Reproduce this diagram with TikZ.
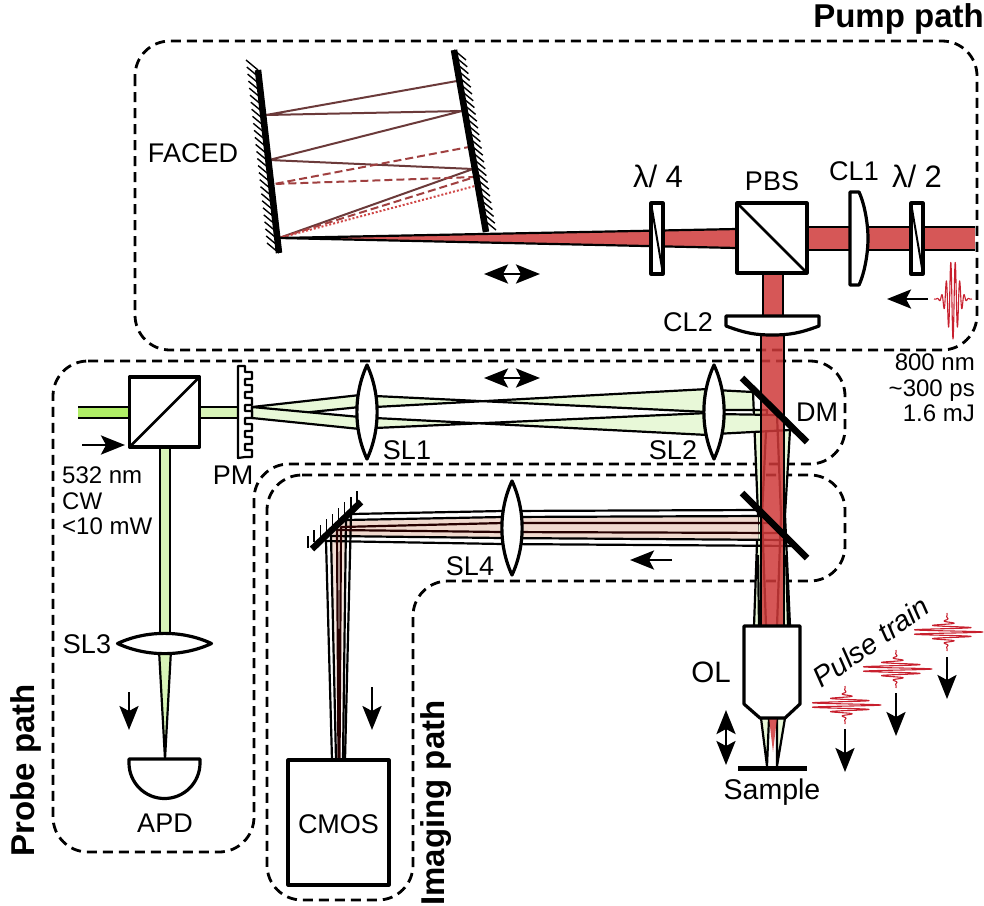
\documentclass[tikz,border=0pt]{standalone}
\usepackage{fontspec}
\setmainfont{Liberation Sans}
\usetikzlibrary{arrows.meta,calc,positioning}
\definecolor{pumpred}{HTML}{CF3A3A}
\definecolor{pulsered}{HTML}{C8202E}
\definecolor{raybrown}{HTML}{6B3A3A}
\definecolor{raydash}{HTML}{A04040}
\definecolor{raydot}{HTML}{D04848}
\definecolor{srcgreen}{HTML}{B0EE66}
\definecolor{midgreen}{HTML}{D8F4B8}
\definecolor{palegreen}{HTML}{E8F8D8}
\definecolor{imgpink}{HTML}{F0D9CE}
\tikzset{
    pathbox/.style={
      draw=black, line width=2.8pt,
           dash pattern=on 10pt off 6pt,
           rounded corners=35pt,
           },
    optic/.style={
      draw=black, fill=white, line width=3.2pt,
           line join=round,
           },
    cube/.style={
      optic,
           rectangle,
           inner sep=0pt, outer sep=0pt,
           minimum size=70pt,
           },
    plate/.style={
      optic,
           rectangle,
           inner sep=0pt, outer sep=0pt,
           minimum width=12pt, minimum height=71pt,
           },
    mirror/.style={draw=black, line width=6.5pt},
    hatchline/.style={draw=black, line width=1.4pt},
    edge/.style={draw=black, line width=2.2pt, line join=round},
    redbeam/.style={edge, fill=pumpred, fill opacity=0.85},
    arrowline/.style={line width=2.8pt, -{Stealth[length=24pt,width=19pt,inset=5pt]}},
    biarrow/.style={line width=2.8pt, {Stealth[length=24pt,width=19pt,inset=5pt]}-{Stealth[length=24pt,width=19pt,inset=5pt]}},
    lab/.style={anchor=base, inner sep=0pt, font=\fontsize{27}{30}\selectfont},
    labsmall/.style={inner sep=0pt, font=\fontsize{24}{25.5}\selectfont},
    pathlabel/.style={inner sep=0pt, font=\bfseries\fontsize{33}{36}\selectfont},
    pulseline/.style={draw=pulsered, line width=1.1pt, line join=round},
    lens/.pic={
      \draw[optic] (0,-47) .. controls (13.5,-18) and (13.5,18) .. (0,47)
                   .. controls (-13.5,18) and (-13.5,-18) .. cycle;
    },
    pumppulse/.pic={
      \draw[pulseline] plot[domain=-19:19,samples=400] ({\x},{40*exp(-((\x/7.5)*(\x/7.5)))*cos(80*\x)});
    },
    trainpulse/.pic={
      \draw[pulseline] plot[domain=-19:19,samples=400] ({36*exp(-((\x/7)*(\x/7)))*cos(80*\x)},{\x});
    },
}
\newcommand{\hatchmirror}[5]{
  \foreach \t in {0,...,#3}{
    \draw[hatchline] ($(#1)!\t/#3!(#2)$) -- ++(#4,#5);
  }
}

\begin{document}
\begin{tikzpicture}[x=1pt,y=-1pt]
\useasboundingbox (0,0) rectangle (984,905);

% dashed outlines
\draw[pathbox] (135,41) rectangle (977,350);
\draw[pathbox] (53,361) -- (845,361) -- (845,464) -- (254,464) -- (254,852) -- (53,852) -- cycle;
\draw[pathbox] (267,475) -- (845,475) -- (845,581) -- (413,581) -- (413,900) -- (267,900) -- cycle;

% FACED rays
\draw[raybrown,line width=2pt,line join=round] (279,238) -- (473,169) -- (269,160) -- (462,111) -- (266,115) -- (457,81);
\draw[raydash,line width=2pt,dash pattern=on 8pt off 4pt] (279,238) -- (475,177) -- (274,184) -- (469,147);
\draw[raydot,line width=2pt,dash pattern=on 2pt off 2pt] (279,238) -- (475,186);

% probe beams
\fill[srcgreen] (78,407) rectangle (131,418);
\draw[edge] (78,407) -- (131,407) (78,418) -- (131,418);
\draw[edge,fill=midgreen] (199,407) rectangle (240,418);
\draw[edge,fill=midgreen] (160,447) rectangle (170,640);
\draw[edge,fill=midgreen,line join=miter] (159,650) -- (171,650) -- (165,759) -- cycle;
\draw[edge,fill=palegreen] (252,407) -- (360,395) -- (360,407) -- (252,418) -- cycle;
\draw[edge,fill=palegreen] (252,407) -- (360,417) -- (360,429) -- (252,418) -- cycle;
\draw[edge,fill=palegreen] (375,396) -- (708,412) -- (708,389) -- (375,407) -- cycle;
\draw[edge,fill=palegreen] (375,418) -- (708,435) -- (708,413) -- (375,428) -- cycle;
\draw[edge,fill=palegreen] (715,390) -- (753,392) -- (758,515) -- (754,626) -- (766,626) -- (762,515) -- (767,410) -- (715,410) -- cycle;
\draw[edge,fill=palegreen] (715,414) -- (777,415) -- (781,515) -- (777,626) -- (790,626) -- (785,515) -- (790,430) -- (715,434) -- cycle;
\draw[edge] (758,555) -- (759,626) (786,555) -- (788,626);

% imaging beam
\fill[imgpink] (758,516) -- (503,517) -- (346,520) -- (331,536) -- (503,538) -- (758,540) -- cycle;
\shade[top color=imgpink,bottom color=white] (346,520) -- (331,536) -- (336,760) -- (343,760) -- cycle;
\foreach \xa/\ya/\yb/\xb/\yc/\xc in {759/510/511/351/514/345,765/516/517/346/520/343,789/540/538/331/536/336,795/546/544/326/541/332}{
  \draw[edge] (\xa,\ya) -- (503,\yb) -- (\xb,\yc) -- (\xc,760);
}
\foreach \xa/\ya/\yb/\xb/\yc/\xc in {772/523/523/341/527/339.5,782/533/532/337/530/338.5}{
  \draw[edge,draw=black!85!red] (\xa,\ya) -- (503,\yb) -- (\xb,\yc) -- (\xc,760);
}

% FACED mirrors
\coordinate (mla) at (258,70);
\coordinate (mlb) at (279,253);
\coordinate (mra) at (454,50);
\coordinate (mrb) at (484,220);
\hatchmirror{mla}{mlb}{26}{-12}{-10}
\hatchmirror{mra}{mrb}{25}{12}{10}

% pump beam
\path[redbeam] (279,238) -- (737,229) -- (737,248) -- cycle;
\fill[pumpred,fill opacity=0.85] (807,227) rectangle (975,250);
\draw[edge] (807,227) -- (975,227) (807,250) -- (975,250);
\path[redbeam] (763,273) rectangle (783,318);
\path[redbeam] (761,330) rectangle (784,626);

% objective cone
\draw[edge,fill=palegreen,line join=miter] (761,718) -- (769,718) -- (767,766) -- cycle;
\draw[edge,fill=palegreen,line join=miter] (777,718) -- (785,718) -- (777,766) -- cycle;
\fill[pumpred,fill opacity=0.85] (769,718) -- (777,718) -- (773,752) -- cycle;

\draw[mirror] (mla) -- (mlb);
\draw[mirror] (mra) -- (486,232);

% folding mirrors
\coordinate (mia) at (308,548);
\coordinate (mib) at (357,503);
\hatchmirror{mia}{mib}{8}{0}{-12}
\draw[mirror] (312,549) -- (361,502);
\draw[mirror] (742,378) -- (807,442);
\draw[mirror] (742,493) -- (807,558);

% optics
\node[plate] (qwp) at (657,238.5) {};
\draw[line width=2pt] (qwp.north west) -- (qwp.south east);
\node[plate] (hwp) at (917,238.5) {};
\draw[line width=2pt] (hwp.north west) -- (hwp.south east);
\node[cube] (pbs) at (772,238) {};
\draw[line width=2.8pt] (pbs.north west) -- (pbs.south east);
\node[cube] (bsp) at (164.5,412) {};
\draw[line width=2.8pt] (bsp.south west) -- (bsp.north east);

\draw[optic] (850,192) -- (859,192) .. controls (865,205) and (868,225) .. (868,238.5) .. controls (868,252) and (865,272) .. (859,285) -- (850,285) -- cycle;
\draw[optic] (726,316) -- (819,316) -- (819,326) .. controls (800,333) and (790,335) .. (772,335) .. controls (755,335) and (745,333) .. (726,326) -- cycle;

\draw[optic,line width=2.2pt] (238,366) -- (245,366) \foreach \k in {0,...,6} { -- ++(0,6) -- ++(7,0) -- ++(0,7) -- ++(-7,0) } -- (238,458) -- cycle;

\pic at (367,412) {lens};
\pic at (714,412) {lens};
\pic at (512,528) {lens};
\pic[rotate=90] at (164.5,643.5) {lens};

\draw[optic] (129,759) -- (200,759) -- (200,763) arc[start angle=0,end angle=180,radius=35.5] -- cycle;
\node[optic,rectangle,inner sep=0pt,outer sep=0pt,minimum width=101pt,minimum height=125pt] (cmos) at (338.5,822.5) {};
\draw[optic] (744,626) -- (800,626) -- (800,704) -- (785,718) -- (760,718) -- (744,704) -- cycle;
\fill[black] (738,766) rectangle (807,771);

% pulses
\pic at (953,299) {pumppulse};
\pic at (845,705) {trainpulse};
\pic at (896,669) {trainpulse};
\pic at (947,632) {trainpulse};

% arrows
\draw[biarrow] (484,274) -- (540,274);
\draw[biarrow] (484,378) -- (540,378);
\draw[biarrow] (726,710) -- (726,765);
\draw[arrowline] (928,299) -- (887,299);
\draw[arrowline] (82,445) -- (125,445);
\draw[arrowline] (672,560) -- (630,560);
\draw[arrowline] (129,692) -- (129,730);
\draw[arrowline] (372,687) -- (372,730);
\draw[arrowline] (845,729) -- (845,772);
\draw[arrowline] (896,693) -- (896,736);
\draw[arrowline] (947,657) -- (947,699);

% labels
\node[lab] (facedlab) at (193,162) {FACED};
\node[lab,font=\fontsize{31}{34}\selectfont] (qwplab) at (658,187) {λ/ 4};
\node[lab,font=\fontsize{31}{34}\selectfont] (hwplab) at (917,187) {λ/ 2};
\node[lab] (pbslab) at (772,190) {PBS};
\node[lab] (clalab) at (854,180) {CL1};
\node[lab] (clblab) at (688,331) {CL2};
\node[lab] (dmlab) at (817,421) {DM};
\node[lab] (slalab) at (407,459) {SL1};
\node[lab] (slblab) at (673,459) {SL2};
\node[lab] (slclab) at (87,653) {SL3};
\node[lab] (sldlab) at (470,575) {SL4};
\node[lab] (pmlab) at (233,484) {PM};
\node[lab] (apdlab) at (165,832) {APD};
\node[lab] (cmoslab) at (338.5,833) {CMOS};
\node[lab,font=\fontsize{29.5}{32}\selectfont] (ollab) at (711,682) {OL};
\node[lab,font=\fontsize{28.5}{32}\selectfont] (samplelab) at (772,799) {Sample};
\node[labsmall,anchor=north west,align=left] (greenlab) at (62,467) {532 nm\\CW\\<10 mW};
\node[labsmall,anchor=north east,align=right] (redlab) at (975,354) {800 nm\\\textasciitilde300 ps\\1.6 mJ};
\node[inner sep=0pt,rotate=35,font=\itshape\fontsize{28.5}{32}\selectfont] (trainlab) at (871,642) {Pulse train};
\node[pathlabel,anchor=base east] (pumplab) at (984,27) {Pump path};
\node[pathlabel,rotate=90] (probelab) at (26,770) {Probe path};
\node[pathlabel,rotate=90] (imaginglab) at (436,803) {Imaging path};

\end{tikzpicture}
\end{document}
